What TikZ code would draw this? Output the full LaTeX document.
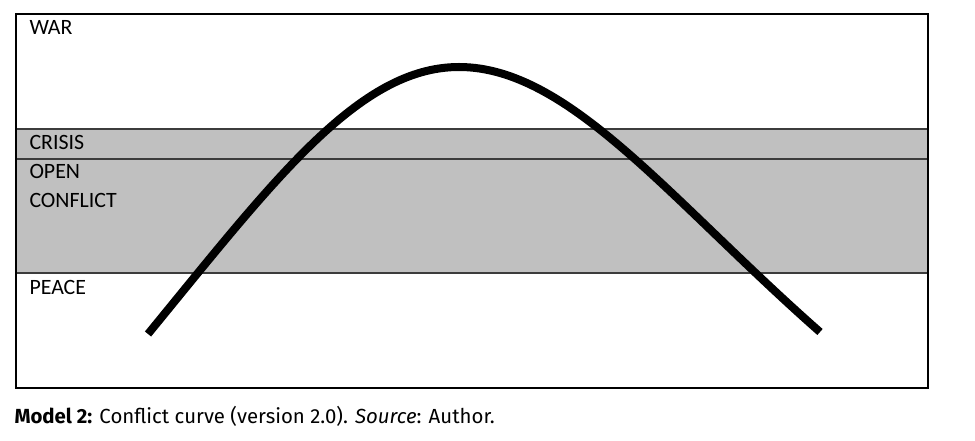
\documentclass[tikz,border=0pt]{standalone}
\usepackage{fontspec}
\setmainfont{Carlito}
\newfontfamily\capfont{Fira Sans}
\definecolor{bandgrey}{RGB}{192,192,192}
\definecolor{bandline}{RGB}{60,60,60}
\tikzset{every picture/.style={line width=0.75pt}}
\tikzset{
  zonelabel/.style={anchor=base west, inner sep=0pt, font=\fontsize{16.4}{19}\selectfont},
  zoneband/.style={fill=bandgrey, draw=bandline, line width=1.1pt},
}

\begin{document}
\begin{tikzpicture}[x=0.75pt,y=0.75pt,yscale=-1,xscale=1]
\useasboundingbox (0,0) rectangle (975,441);

%Shape: Rectangle [crisis band]
\draw  [zoneband] (16,129) -- (928,129) -- (928,159) -- (16,159) -- cycle ;
%Shape: Rectangle [open conflict band]
\draw  [zoneband] (16,159) -- (928,159) -- (928,273) -- (16,273) -- cycle ;
%Shape: Rectangle [frame]
\draw  [line width=1.2pt] (16,14) -- (928,14) -- (928,388) -- (16,388) -- cycle ;

%Curve Lines [conflict curve]
\draw  [line width=6pt] (148,334) .. controls (275,179) and (359,67) .. (459,67) .. controls (569,67) and (670,200) .. (820,332) ;

% Text Node
\node (war) [zonelabel] at (29,35) {WAR};
% Text Node
\node (crisis) [zonelabel] at (29,150) {CRISIS};
% Text Node
\node (open) [zonelabel] at (29,179) {OPEN};
% Text Node
\node (conflict) [zonelabel] at (29,208) {CONFLICT};
% Text Node
\node (peace) [zonelabel] at (29,295) {PEACE};
% Text Node
\node (caption) [anchor=base west, inner sep=0pt, font=\capfont\fontsize{15.3}{18}\selectfont] at (14,424) {\textbf{Model 2:} Conflict curve (version 2.0). \textit{Source}: Author.};

\end{tikzpicture}
\end{document}
